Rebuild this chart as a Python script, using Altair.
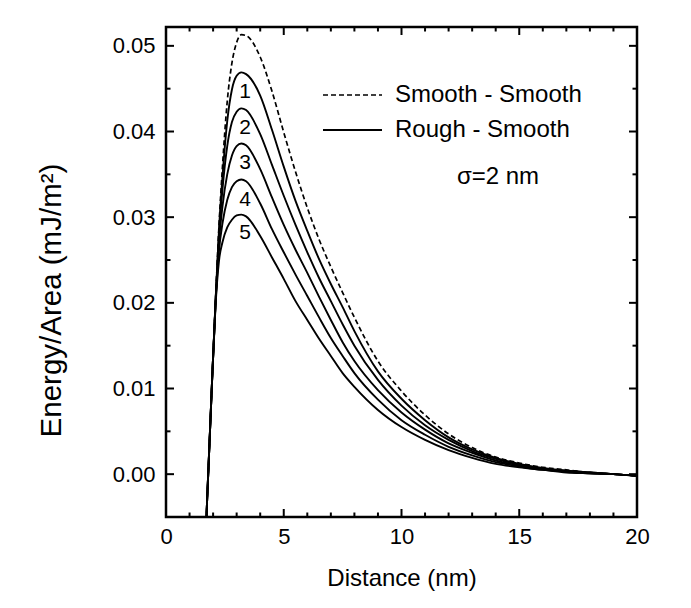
import altair as alt
import pandas as pd

# ---------------- data ----------------
x_nm = [1.65, 1.72, 1.8, 1.95, 2.1, 2.25, 2.4, 2.6, 2.8, 3.0, 3.2, 3.4,
        4.0, 4.5, 5.0, 5.5, 6.0, 6.5, 7.0, 7.5, 8.0,
        9.0, 10.0, 11.0, 12.0, 13.0, 14.0, 15.0, 16.0, 17.0, 18.0, 19.0, 20.0]

smooth_smooth = [-0.012, -0.005, 0.0005, 0.0105, 0.0200, 0.0290, 0.0360, 0.0435, 0.0480, 0.0504, 0.0513, 0.0512,
                 0.0487, 0.0447, 0.0399, 0.0353, 0.0311, 0.0274, 0.0242, 0.0212, 0.0183,
                 0.0132, 0.0097, 0.0069, 0.0047, 0.0031, 0.0020, 0.0013, 0.0008, 0.0005, 0.0002, 0.0000, -0.0002]
rough_1 = [-0.012, -0.005, 0.0005, 0.0105, 0.0200, 0.0285, 0.0348, 0.0412, 0.0449, 0.0465, 0.0469, 0.0467,
           0.0442, 0.0402, 0.0359, 0.0319, 0.0284, 0.0251, 0.0222, 0.0195, 0.0167,
           0.0120, 0.0088, 0.0063, 0.0043, 0.0029, 0.0019, 0.0012, 0.0007, 0.0004, 0.0002, 0.0000, -0.0002]
rough_2 = [-0.012, -0.005, 0.0005, 0.0105, 0.0199, 0.0280, 0.0333, 0.0383, 0.0411, 0.0423, 0.0427, 0.0425,
           0.0397, 0.0361, 0.0325, 0.0291, 0.0259, 0.0229, 0.0202, 0.0175, 0.0150,
           0.0110, 0.0080, 0.0057, 0.0040, 0.0027, 0.0018, 0.0011, 0.0007, 0.0004, 0.0002, 0.0000, -0.0002]
rough_3 = [-0.012, -0.005, 0.0005, 0.0105, 0.0198, 0.0271, 0.0313, 0.0350, 0.0372, 0.0383, 0.0386, 0.0384,
           0.0356, 0.0323, 0.0291, 0.0262, 0.0235, 0.0207, 0.0180, 0.0154, 0.0132,
           0.0098, 0.0072, 0.0052, 0.0036, 0.0025, 0.0016, 0.0010, 0.0006, 0.0003, 0.0001, 0.0000, -0.0002]
rough_4 = [-0.012, -0.005, 0.0005, 0.0105, 0.0197, 0.0261, 0.0293, 0.0320, 0.0335, 0.0342, 0.0344, 0.0342,
           0.0316, 0.0286, 0.0259, 0.0233, 0.0208, 0.0183, 0.0159, 0.0138, 0.0118,
           0.0087, 0.0063, 0.0046, 0.0032, 0.0022, 0.0014, 0.0009, 0.0005, 0.0003, 0.0001, 0.0000, -0.0002]
rough_5 = [-0.012, -0.005, 0.0005, 0.0105, 0.0195, 0.0249, 0.0271, 0.0288, 0.0297, 0.0302, 0.0303, 0.0301,
           0.0278, 0.0253, 0.0228, 0.0202, 0.0180, 0.0158, 0.0138, 0.0118, 0.0102,
           0.0075, 0.0055, 0.0040, 0.0028, 0.0019, 0.0012, 0.0008, 0.0005, 0.0002, 0.0001, 0.0000, -0.0002]

curve_labels = ["1", "2", "3", "4", "5"]
x_ticks_major = [0, 5, 10, 15, 20]
x_ticks_minor = [1, 2, 3, 4, 6, 7, 8, 9, 11, 12, 13, 14, 16, 17, 18, 19]
y_ticks_major = [0.0, 0.01, 0.02, 0.03, 0.04, 0.05]
y_ticks_minor = [0.005, 0.015, 0.025, 0.035, 0.045]

# ---------------- build table ----------------
rough = [rough_1, rough_2, rough_3, rough_4, rough_5]
rows = []
for xv, yv in zip(x_nm, smooth_smooth):
    rows.append({"x": xv, "y": yv, "series": "SS"})
for i, vals in enumerate(rough):
    for xv, yv in zip(x_nm, vals):
        rows.append({"x": xv, "y": yv, "series": f"RS{i+1}"})
df = pd.DataFrame(rows)

FONT = "Liberation Sans"
W, H = 471, 490
xs = alt.Scale(domain=[0, 20], nice=False, zero=False)
ys = alt.Scale(domain=[-0.005, 0.0522], nice=False, zero=False)

x_axis = alt.Axis(values=x_ticks_major, format="d", title="Distance (nm)", ticks=False, tickSize=0,
                  domain=False, grid=False, labelFlush=False, labelFont=FONT, labelFontSize=22,
                  labelColor="black", labelPadding=9, titleFont=FONT, titleFontSize=24,
                  titleFontWeight="normal", titleColor="black", titlePadding=19)
y_axis = alt.Axis(values=y_ticks_major, format=".2f", title="Energy/Area (mJ/m²)", ticks=False, tickSize=0,
                  domain=False, grid=False, labelFlush=False, labelFont=FONT, labelFontSize=22,
                  labelColor="black", labelPadding=11, titleFont=FONT, titleFontSize=29.5,
                  titleFontWeight="normal", titleColor="black", titleX=-100, titleY=273,
                  titleAngle=-90, titleBaseline="bottom")

X = lambda f: alt.X(f, scale=xs, axis=x_axis)
Y = lambda f: alt.Y(f, scale=ys, axis=y_axis)

base = alt.Chart(df)
ss_line = base.transform_filter(alt.datum.series == "SS").mark_line(
    color="black", strokeWidth=1.7, strokeDash=[5, 3], interpolate="monotone", clip=True
).encode(x=X("x:Q"), y=Y("y:Q"))

rs_lines = base.transform_filter(alt.datum.series != "SS").mark_line(
    color="black", strokeWidth=1.9, interpolate="monotone", clip=True
).encode(x=X("x:Q"), y=Y("y:Q"), detail="series:N")

layers = [ss_line, rs_lines]

# inward ticks on all four sides
def xticks(values, length):
    d = pd.DataFrame({"v": values})
    bottom = alt.Chart(d).mark_rule(color="black", strokeWidth=2).encode(
        x=X("v:Q"), y=alt.value(H), y2=alt.value(H - length))
    top = alt.Chart(d).mark_rule(color="black", strokeWidth=2).encode(
        x=X("v:Q"), y=alt.value(0), y2=alt.value(length))
    return [bottom, top]

def yticks(values, length):
    d = pd.DataFrame({"v": values})
    left = alt.Chart(d).mark_rule(color="black", strokeWidth=2).encode(
        y=Y("v:Q"), x=alt.value(0), x2=alt.value(length))
    right = alt.Chart(d).mark_rule(color="black", strokeWidth=2).encode(
        y=Y("v:Q"), x=alt.value(W), x2=alt.value(W - length))
    return [left, right]

layers += xticks(x_ticks_major, 8) + xticks(x_ticks_minor, 4.5)
layers += yticks(y_ticks_major, 8) + yticks(y_ticks_minor, 4.5)

# curve numbers
lab_pos_y = [65, 101, 136, 173, 206]
for lab, py in zip(curve_labels, lab_pos_y):
    layers.append(alt.Chart(alt.Data(values=[{"t": lab}])).mark_text(
        font=FONT, fontSize=21, color="black", align="center", baseline="middle"
    ).encode(text="t:N", x=alt.value(79), y=alt.value(py)))

# legend
one = alt.Data(values=[{"a": 1}])
layers.append(alt.Chart(one).mark_rule(color="black", strokeWidth=1.7, strokeDash=[5, 3]).encode(
    x=alt.value(157), x2=alt.value(216), y=alt.value(68)))
layers.append(alt.Chart(one).mark_rule(color="black", strokeWidth=1.9).encode(
    x=alt.value(157), x2=alt.value(216), y=alt.value(103)))
for txt, py in [("Smooth - Smooth", 68), ("Rough - Smooth", 103)]:
    layers.append(alt.Chart(alt.Data(values=[{"t": txt}])).mark_text(
        font=FONT, fontSize=24, color="black", align="left", baseline="middle"
    ).encode(text="t:N", x=alt.value(229), y=alt.value(py)))
layers.append(alt.Chart(alt.Data(values=[{"t": "σ=2 nm"}])).mark_text(
    font=FONT, fontSize=24, color="black", align="center", baseline="middle"
).encode(text="t:N", x=alt.value(332), y=alt.value(150)))

chart = alt.layer(*layers).properties(
    width=W, height=H,
    padding={"left": 166, "top": 27, "right": 54, "bottom": 91},
    autosize=alt.AutoSizeParams(type="none"),
    background="white",
).configure_view(stroke="black", strokeWidth=2.5)

chart.save("out.html", embed_options={"renderer": "svg", "actions": False})
